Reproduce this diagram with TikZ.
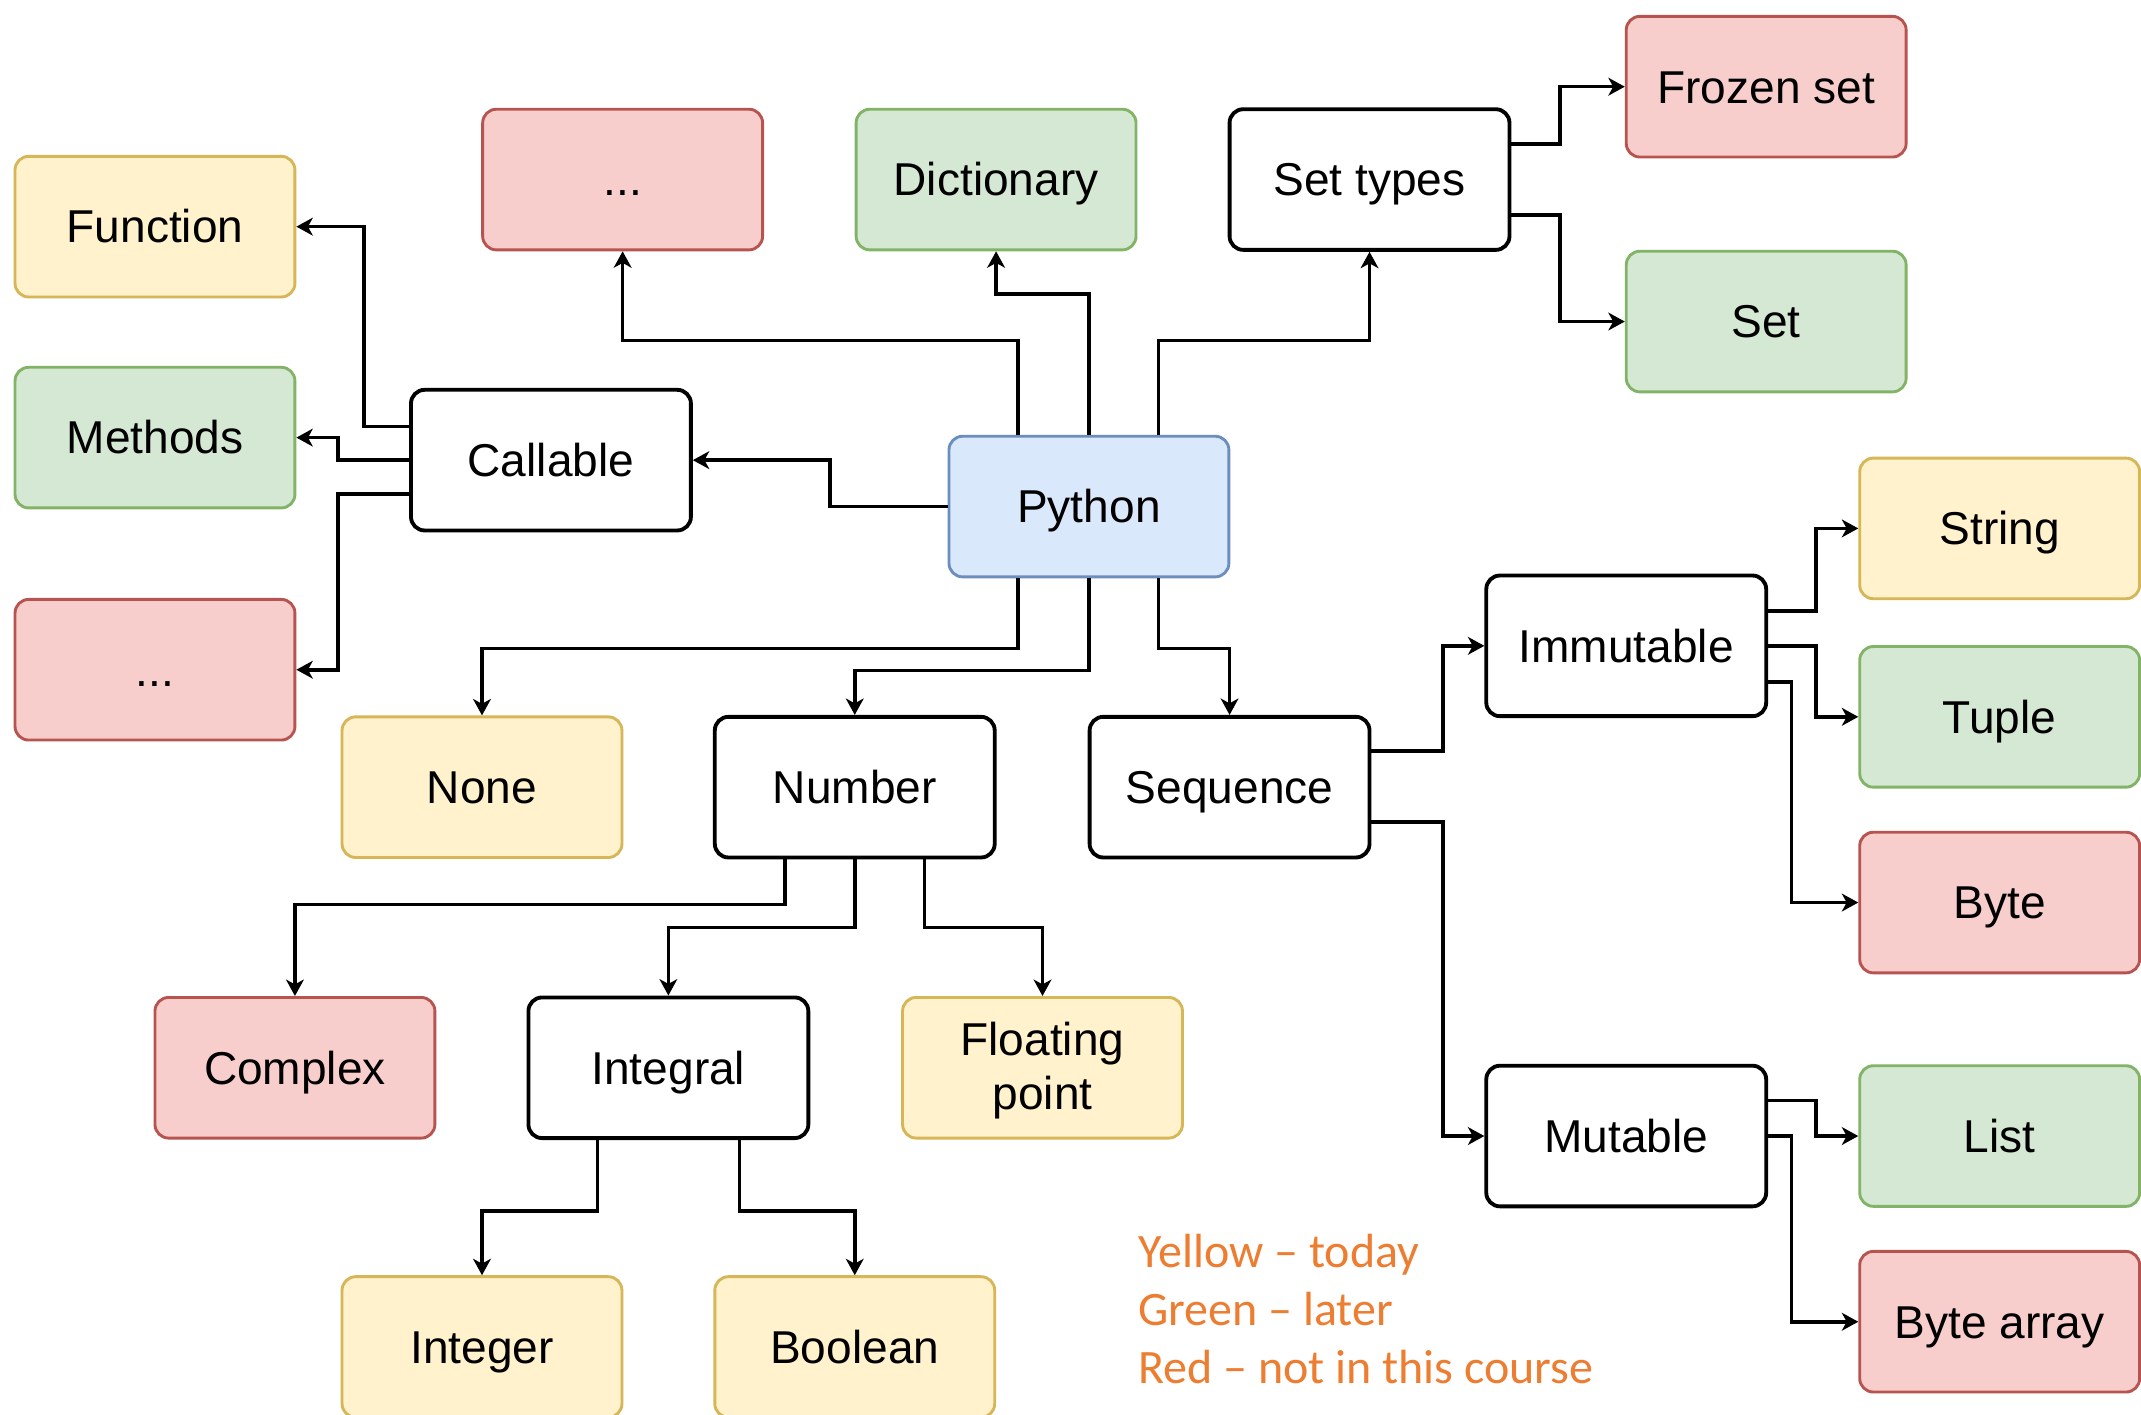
\documentclass[tikz,border=0pt]{standalone}
\usepackage{fontspec}
\setmainfont{Liberation Sans}
\newfontfamily\legendfont{Carlito}
\usetikzlibrary{arrows.meta,calc}
\definecolor{yfill}{HTML}{FFF2CC}\definecolor{ydraw}{HTML}{D6B656}
\definecolor{gfill}{HTML}{D5E8D4}\definecolor{gdraw}{HTML}{82B366}
\definecolor{rfill}{HTML}{F8CECC}\definecolor{rdraw}{HTML}{B85450}
\definecolor{bfill}{HTML}{DAE8FC}\definecolor{bdraw}{HTML}{6C8EBF}
\definecolor{legendc}{HTML}{ED7D31}
\begin{document}
\begin{tikzpicture}[x=0.1mm,y=-0.1mm,
  box/.style={rectangle, rounded corners=1mm, minimum width=20.5mm, minimum height=10.3mm,
    inner sep=0pt, align=center, font=\fontsize{9.6}{11.4}\selectfont, line width=0.6pt,
    text height=7pt, text depth=0.2pt},
  blk/.style={box, draw=black, fill=white, line width=0.8pt},
  yel/.style={box, draw=ydraw, fill=yfill},
  grn/.style={box, draw=gdraw, fill=gfill},
  redbox/.style={box, draw=rdraw, fill=rfill},
  blu/.style={box, draw=bdraw, fill=bfill},
  conn/.style={line width=0.75pt, -{Stealth[length=1.2mm,width=1.3mm,inset=0.35mm]}},
  legend/.style={font=\legendfont\fontsize{10}{11}\selectfont, text=legendc, inner sep=0pt, anchor=base west}]
\path[fill=white] (0,0) rectangle (1568,1036);
\useasboundingbox (0,0) rectangle (1568,1036);

\node[yel] (function) at (113.5,166) {Function};
\node[grn] (methods) at (113.5,320.5) {Methods};
\node[redbox] (dleft) at (113.5,490.5) {...};
\node[redbox] (dtop) at (456,131.5) {...};
\node[grn] (dict) at (729.5,131.5) {Dictionary};
\node[blk] (settypes) at (1003,131.5) {Set types};
\node[redbox] (frozen) at (1293.5,63.5) {Frozen set};
\node[grn] (set) at (1293.5,235.5) {Set};
\node[blk] (callable) at (403.5,337) {Callable};
\node[blu] (python) at (797.5,371) {Python};
\node[yel] (string) at (1464.5,387) {String};
\node[blk] (immutable) at (1191,473) {Immutable};
\node[grn] (tuple) at (1464.5,525) {Tuple};
\node[redbox] (byte) at (1464.5,661) {Byte};
\node[yel] (none) at (353,576.5) {None};
\node[blk] (number) at (626,576.5) {Number};
\node[blk] (sequence) at (900.5,576.5) {Sequence};
\node[redbox] (complex) at (216,782) {Complex};
\node[blk] (integral) at (489.5,782) {Integral};
\node[yel, text height=18pt, text depth=0.4pt] (floating) at (763.5,782) {Floating\\point};
\node[blk] (mutable) at (1191,832) {Mutable};
\node[grn] (list) at (1464.5,832) {List};
\node[redbox] (bytearray) at (1464.5,968) {Byte array};
\node[yel] (integer) at (353,986.5) {Integer};
\node[yel] (boolean) at (626,986.5) {Boolean};

\draw[conn] (python.west) -- ++(-86,0) |- (callable.east);
\draw[conn] ($(python.north)+(-52,0)$) -- ++(0,-69) -| (dtop.south);
\draw[conn] (python.north) -- ++(0,-103) -| (dict.south);
\draw[conn] ($(python.north)+(51,0)$) -- ++(0,-69) -| (settypes.south);
\draw[conn] ($(settypes.east)+(0,-26)$) -- ++(35.5,0) |- (frozen.west);
\draw[conn] ($(settypes.east)+(0,26)$) -- ++(35.5,0) |- (set.west);
\draw[conn] ($(callable.west)+(0,-24.5)$) -- ++(-33,0) |- (function.east);
\draw[conn] (callable.west) -- ++(-52,0) |- (methods.east);
\draw[conn] ($(callable.west)+(0,25)$) -- ++(-52,0) |- (dleft.east);
\draw[conn] ($(python.south)+(-52,0)$) -- ++(0,51.5) -| (none.north);
\draw[conn] (python.south) -- ++(0,67.5) -| (number.north);
\draw[conn] ($(python.south)+(51,0)$) -- ++(0,51.5) -| (sequence.north);
\draw[conn] ($(sequence.east)+(0,-26.5)$) -- ++(52.5,0) |- (immutable.west);
\draw[conn] ($(sequence.east)+(0,25.5)$) -- ++(52.5,0) |- (mutable.west);
\draw[conn] ($(immutable.east)+(0,-25.5)$) -- ++(35,0) |- (string.west);
\draw[conn] (immutable.east) -- ++(35,0) |- (tuple.west);
\draw[conn] ($(immutable.east)+(0,26.5)$) -- ++(17,0) |- (byte.west);
\draw[conn] ($(mutable.east)+(0,-26)$) -- ++(35,0) |- (list.west);
\draw[conn] (mutable.east) -- ++(17,0) |- (bytearray.west);
\draw[conn] ($(number.south)+(-51,0)$) -- ++(0,33) -| (complex.north);
\draw[conn] (number.south) -- ++(0,50) -| (integral.north);
\draw[conn] ($(number.south)+(51,0)$) -- ++(0,50) -| (floating.north);
\draw[conn] ($(integral.south)+(-52,0)$) -- ++(0,52) -| (integer.north);
\draw[conn] ($(integral.south)+(52,0)$) -- ++(0,52) -| (boolean.north);

\node[legend] (l1) at (833,928) {Yellow – today};
\node[legend] (l2) at (833,970.5) {Green – later};
\node[legend] (l3) at (833,1013) {Red – not in this course};
\end{tikzpicture}
\end{document}
